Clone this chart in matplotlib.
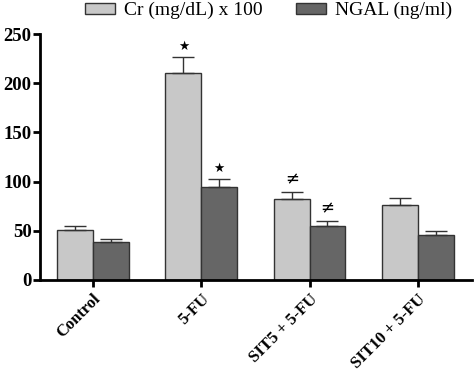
import numpy as np
import matplotlib.pyplot as plt

groups = ['Control', '5-FU', 'SIT5 + 5-FU', 'SIT10 + 5-FU']
cr_vals = [51, 210, 82, 76]
cr_err = [4, 17, 7, 7]
ngal_vals = [38.5, 95, 55, 46]
ngal_err = [3, 7.5, 4.5, 3.5]
cr_marks = ['', '\u2605', '\u2260', '']
ngal_marks = ['', '\u2605', '\u2260', '']

plt.rcParams['font.family'] = ['Liberation Serif', 'DejaVu Serif']

fig = plt.figure(figsize=(4.74, 3.83), dpi=100)
ax = fig.add_axes([0.084, 0.269, 0.912, 0.642])

x = np.arange(len(groups))
w = 0.33
edge = '#333333'
b1 = ax.bar(x - w / 2, cr_vals, w, color='#c8c8c8', edgecolor=edge, linewidth=1.0,
            label='Cr (mg/dL) x 100')
b2 = ax.bar(x + w / 2, ngal_vals, w, color='#666666', edgecolor=edge, linewidth=1.0,
            label='NGAL (ng/ml)')
ax.errorbar(x - w / 2, cr_vals, yerr=[np.zeros(4), cr_err], fmt='none',
            ecolor=edge, elinewidth=1.0, capsize=8, capthick=1.0)
ax.errorbar(x + w / 2, ngal_vals, yerr=[np.zeros(4), ngal_err], fmt='none',
            ecolor=edge, elinewidth=1.0, capsize=8, capthick=1.0)


def put_marks(xs, vals, errs, marks):
    for xi, v, e, m in zip(xs, vals, errs, marks):
        if m:
            size = 9 if m == '\u2605' else 12
            ax.annotate(m, (xi, v + e), xytext=(0, 3), textcoords='offset points',
                        ha='center', va='bottom', fontsize=size,
                        family=['DejaVu Sans'])


put_marks(x - w / 2, cr_vals, cr_err, cr_marks)
put_marks(x + w / 2, ngal_vals, ngal_err, ngal_marks)

ax.set_xlim(-0.49, 3.5)
ax.set_ylim(0, 250)
ax.set_yticks([0, 50, 100, 150, 200, 250])
ax.set_xticks(x)
ax.set_xticklabels(groups, rotation=45, ha='right', rotation_mode='anchor',
                   fontweight='bold', fontsize=12)
for lab in ax.get_yticklabels():
    lab.set_fontweight('bold')
    lab.set_fontsize(13.5)

for s in ['top', 'right']:
    ax.spines[s].set_visible(False)
for s in ['left', 'bottom']:
    ax.spines[s].set_linewidth(2)
ax.tick_params(axis='both', width=2, length=5, pad=1)
ax.tick_params(axis='x', pad=3)

fig.legend(handles=[b1, b2], loc='upper left', bbox_to_anchor=(83 / 474, 1.0), ncol=2,
           frameon=False, fontsize=14, handlelength=1.55, handleheight=0.5,
           columnspacing=1.7, handletextpad=0.46, borderpad=0, borderaxespad=0.1)

fig.savefig('out.png', dpi=100)
